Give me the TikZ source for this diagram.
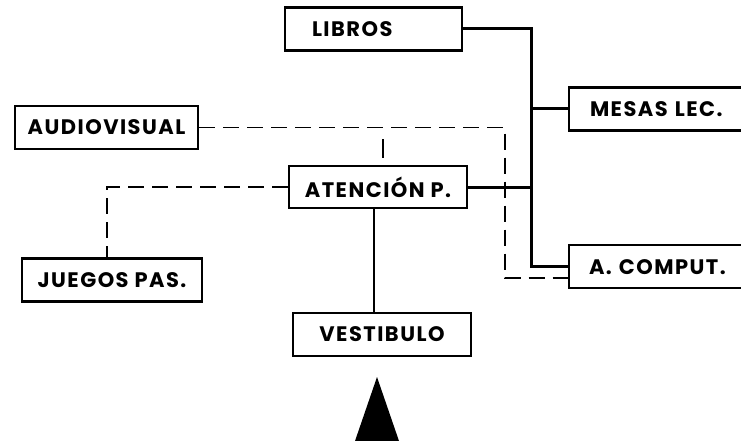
\documentclass[tikz,border=0pt]{standalone}
\usepackage{fontspec}
\newfontfamily\lblfont{Poppins}[LetterSpace=7]
\begin{document}
\begin{tikzpicture}[x=1pt,y=-1pt,
  box/.style={draw=black, line width=2.4pt, fill=white, inner sep=0pt,
    font=\lblfont\bfseries\fontsize{21}{24}\selectfont, minimum height=43pt},
  leftbox/.style={box, align=left, inner xsep=#1, text height=15pt, text depth=0pt},
  solidline/.style={line width=3pt},
  dashline/.style={line width=1.8pt, dash pattern=on 16pt off 8pt},
  thindash/.style={line width=1.3pt, dash pattern=on 16pt off 8pt}]
\useasboundingbox (0,0) rectangle (741,441);
% nodes
\node[leftbox=27pt, text width=123pt] (libros) at (373.5,29) {LIBROS};
\node[leftbox=21pt, text width=136pt] (mesas) at (658,109) {MESAS LEC.};
\node[leftbox=20pt, text width=138pt] (comput) at (658,266.5) {A. COMPUT.};
\node[box, minimum width=183pt] (audio) at (106.5,127.5) {AUDIOVISUAL};
\node[box, minimum width=178pt, minimum height=42pt] (aten) at (378,187) {ATENCIÓN P.};
\node[box, minimum width=180pt] (juegos) at (112,280) {JUEGOS PAS.};
\node[box, minimum width=178pt] (vest) at (382,334.5) {VESTIBULO};
% coordinates
\coordinate (bus) at (531,0);
\coordinate (dv) at (505,0);
\coordinate (jv) at (107,0);
\coordinate (tap) at (383,132);
% solid connectors
\draw[solidline] (libros.east) -| (bus |- comput.west) -- (comput.west);
\draw[solidline] (bus |- mesas.west) -- (mesas.west);
\draw[solidline] (aten.east) -- (bus |- aten.east);
\draw[line width=2.4pt] (374,208) -- (374,313);
% dashed connectors
\draw[dashline] (audio.east) -- (dv |- audio.east) -- (dv |- 0,278) -- (comput.west |- 0,278);
\draw[line width=1.2pt, dash pattern=on 0pt off 7pt on 19pt off 30pt] (tap) -- (tap |- aten.north);
\draw[thindash] (aten.west) -- (jv |- aten.west) -- (jv |- juegos.north);
% entrance triangle
\fill[black] (377,377) -- (399,441) -- (355,441) -- cycle;
\end{tikzpicture}
\end{document}
